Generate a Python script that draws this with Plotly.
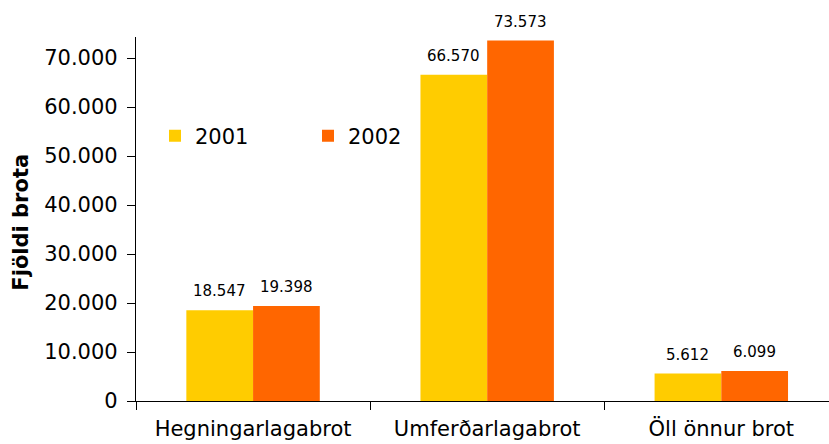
import plotly.graph_objects as go

categories = ["Hegningarlagabrot", "Umferðarlagabrot", "Öll önnur brot"]
years = ["2001", "2002"]
values_2001 = [18547, 66570, 5612]
values_2002 = [19398, 73573, 6099]
colors = ["#FFCC00", "#FF6600"]
y_ticks = [0, 10000, 20000, 30000, 40000, 50000, 60000, 70000]
y_tick_labels = ["0", "10.000", "20.000", "30.000", "40.000", "50.000", "60.000", "70.000"]

FONT = "Verdana, DejaVu Sans, sans-serif"

def fmt(v):
    return f"{v:,}".replace(",", ".")

fig = go.Figure()
for name, vals, col in zip(years, [values_2001, values_2002], colors):
    fig.add_trace(go.Bar(name=name, x=categories, y=vals, marker=dict(color=col, line=dict(width=0))))

W = 829
ml, mr, mt, mb = 136, 0, 37, 43
plot_w = W - ml - mr
cat_px = plot_w / 2.96
bar_px = cat_px * (1 - 0.43) / 2

annotations = []
for i, (vals, sign) in enumerate([(values_2001, -1), (values_2002, 1)]):
    for c, v in zip(categories, vals):
        annotations.append(dict(x=c, y=v, text=fmt(v), showarrow=False, xref="x", yref="y",
                                yanchor="bottom", yshift=8, xshift=sign * bar_px / 2,
                                font=dict(family=FONT, size=15, color="#000000")))
annotations.append(dict(x=(21 - ml) / plot_w, y=0.49, xref="paper", yref="paper", text="<b>Fjöldi brota</b>",
                        textangle=-90, showarrow=False, xanchor="center", yanchor="middle",
                        font=dict(family=FONT, size=21, color="#000000")))

fig.update_layout(
    width=829, height=444,
    margin=dict(l=ml, r=mr, t=mt, b=mb, autoexpand=False),
    paper_bgcolor="white", plot_bgcolor="white",
    barmode="group", bargap=0.43, bargroupgap=0,
    font=dict(family=FONT, size=21, color="#000000"),
    showlegend=True,
    legend=dict(orientation="h", x=(155 - ml) / plot_w, y=(401 - 136) / 364, xanchor="left", yanchor="middle",
                font=dict(family=FONT, size=21, color="#000000"), bgcolor="rgba(0,0,0,0)",
                entrywidth=108, entrywidthmode="pixels", itemclick=False),
    xaxis=dict(range=[-0.5, 2.46], showline=True, linecolor="#000000", linewidth=1.3,
               ticks="outside", tickson="boundaries", ticklen=8, tickcolor="#000000", tickwidth=1.3,
               showgrid=False, zeroline=False, tickfont=dict(family=FONT, size=21, color="#000000"),
               ticklabelstandoff=9),
    yaxis=dict(range=[0, 74300], tickvals=y_ticks, ticktext=y_tick_labels, showline=True,
               linecolor="#000000", linewidth=1.3, ticks="outside", ticklen=8, tickcolor="#000000",
               tickwidth=1.3, showgrid=False, zeroline=False,
               tickfont=dict(family=FONT, size=21, color="#000000"), ticklabelstandoff=5),
    annotations=annotations,
)

fig.write_html("out.html", config={"displayModeBar": False},
               post_script="document.body.style.margin='0';document.body.style.padding='0';document.body.style.overflow='hidden';")
